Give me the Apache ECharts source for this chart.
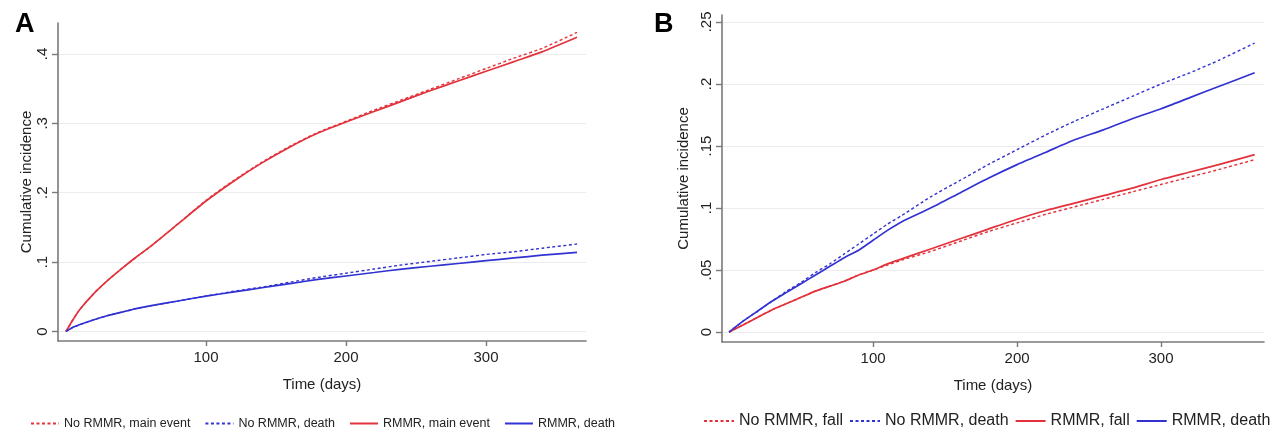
<!DOCTYPE html>
<html>
<head>
<meta charset="utf-8">
<script src="https://cdn.jsdelivr.net/npm/echarts@6/dist/echarts.min.js"></script>
<style>
html,body{margin:0;padding:0;background:#fff;}
#chart{width:1272px;height:435px;}
</style>
</head>
<body>
<div id="chart"></div>
<script>
// ---- Panel A data ----
const daysA = [0,5,10,20,30,40,50,60,80,100,120,140,160,180,200,220,240,260,280,300,320,340,365];
const aNoMain  = [0,0.017,0.032,0.055,0.074,0.091,0.107,0.122,0.155,0.189,0.218,0.244,0.267,0.287,0.303,0.319,0.334,0.349,0.364,0.379,0.394,0.408,0.431];
const aNoDeath = [0,0.006,0.010,0.017,0.023,0.028,0.033,0.037,0.044,0.051,0.058,0.064,0.071,0.078,0.084,0.090,0.096,0.101,0.106,0.111,0.115,0.120,0.126];
const aMain    = [0,0.017,0.032,0.055,0.074,0.091,0.107,0.122,0.155,0.188,0.217,0.243,0.266,0.286,0.302,0.317,0.332,0.347,0.361,0.375,0.389,0.403,0.424];
const aDeath   = [0,0.006,0.010,0.017,0.023,0.028,0.033,0.037,0.044,0.051,0.057,0.063,0.069,0.075,0.080,0.085,0.090,0.094,0.098,0.102,0.106,0.110,0.114];
const namesA = ['No RMMR, main event','No RMMR, death','RMMR, main event','RMMR, death'];
const yTicksA = [0,0.1,0.2,0.3,0.4];

// ---- Panel B data ----
const daysB = [0,10,20,30,40,50,60,70,80,90,100,110,120,140,160,180,200,220,240,260,280,300,320,340,365];
const bNoFall  = [0,0.006,0.012,0.018,0.023,0.028,0.033,0.037,0.041,0.046,0.050,0.054,0.058,0.065,0.073,0.081,0.088,0.095,0.101,0.107,0.113,0.119,0.125,0.131,0.139];
const bNoDeath = [0,0.009,0.017,0.025,0.033,0.040,0.048,0.055,0.063,0.071,0.079,0.087,0.094,0.109,0.122,0.135,0.147,0.159,0.170,0.180,0.190,0.200,0.209,0.219,0.233];
const bFall    = [0,0.006,0.012,0.018,0.023,0.028,0.033,0.037,0.041,0.046,0.050,0.055,0.059,0.067,0.075,0.083,0.091,0.098,0.104,0.110,0.116,0.123,0.129,0.135,0.143];
const bDeath   = [0,0.009,0.017,0.025,0.032,0.039,0.046,0.053,0.060,0.066,0.074,0.082,0.089,0.100,0.112,0.124,0.135,0.145,0.155,0.163,0.172,0.180,0.189,0.198,0.209];
const namesB = ['No RMMR, fall','No RMMR, death','RMMR, fall','RMMR, death'];
const yTicksB = [0,0.05,0.1,0.15,0.2,0.25];

const xTicks = [100,200,300];

const RED = '#e3323c', BLUE = '#3232d2';
const FONT = 'Liberation Sans, Arial, sans-serif';
const TXT = '#222';

function pairs(x, y){ return x.map((d,i)=>[d,y[i]]); }
function fmtY(v){ return v === 0 ? '0' : String(+v.toFixed(2)).replace(/^0/, ''); }

function mkSeries(name, xi, yi, days, vals, color, dashed){
  return {
    type:'line', name, xAxisIndex:xi, yAxisIndex:yi,
    data: pairs(days, vals), symbol:'none', smooth:0.2,
    lineStyle:{color, width: dashed?1.4:1.7, type: dashed?[3,2.5]:'solid'},
    itemStyle:{color}, z: dashed?3:2, silent:true
  };
}

function xAxisCfg(gi, min, max){
  return {
    type:'value', gridIndex:gi, min, max,
    name:'Time (days)', nameLocation:'middle', nameGap:36,
    nameTextStyle:{fontFamily:FONT, fontSize:15, color:TXT},
    axisLine:{show:true, onZero:false, lineStyle:{color:'#7a7a7a', width:1.6}},
    axisTick:{show:true, length:5, customValues:xTicks, lineStyle:{color:'#7a7a7a', width:1.4}},
    axisLabel:{customValues:xTicks, margin:9, fontFamily:FONT, fontSize:15, color:TXT},
    splitLine:{show:false}
  };
}
function yAxisCfg(gi, min, max, ticks, gap){
  return {
    type:'value', gridIndex:gi, min, max,
    name:'Cumulative incidence', nameLocation:'middle', nameGap:gap,
    nameTextStyle:{fontFamily:FONT, fontSize:15, color:TXT},
    axisLine:{show:true, onZero:false, lineStyle:{color:'#7a7a7a', width:1.6}},
    axisTick:{show:true, length:6, customValues:ticks, lineStyle:{color:'#7a7a7a', width:1.4}},
    axisLabel:{customValues:ticks, rotate:90, margin:8, fontFamily:FONT, fontSize:15, color:TXT, formatter:fmtY},
    splitLine:{show:true, lineStyle:{color:'#ececec', width:1}}
  };
}

const chart = echarts.init(document.getElementById('chart'), null, {renderer:'canvas'});
chart.setOption({
  backgroundColor:'#fff',
  animation:false,
  title:[
    {text:'A', left:10, top:6, textStyle:{fontFamily:FONT, fontSize:27, fontWeight:'bold', color:'#000'}},
    {text:'B', left:649, top:6, textStyle:{fontFamily:FONT, fontSize:27, fontWeight:'bold', color:'#000'}}
  ],
  grid:[
    {left:58, top:23, width:528, height:318},
    {left:722, top:15, width:542, height:327}
  ],
  xAxis:[ xAxisCfg(0, -5.7, 371.4), xAxisCfg(1, -4.9, 371.5) ],
  yAxis:[ yAxisCfg(0, -0.0137, 0.4446, yTicksA, 23), yAxisCfg(1, -0.008, 0.2556, yTicksB, 31) ],
  legend:[
    {data:namesA, left:30, top:417, padding:0, width:620, itemWidth:28, itemHeight:12, itemGap:14,
     itemStyle:{opacity:0},
     textStyle:{fontFamily:FONT, fontSize:12.5, color:TXT}},
    {data:namesB, left:703, top:413, padding:0, width:600, itemWidth:30, itemHeight:14, itemGap:6,
     itemStyle:{opacity:0},
     textStyle:{fontFamily:FONT, fontSize:16, color:TXT}}
  ],
  series:[
    mkSeries(namesA[0],0,0,daysA,aNoMain,RED,true),
    mkSeries(namesA[1],0,0,daysA,aNoDeath,BLUE,true),
    mkSeries(namesA[2],0,0,daysA,aMain,RED,false),
    mkSeries(namesA[3],0,0,daysA,aDeath,BLUE,false),
    mkSeries(namesB[0],1,1,daysB,bNoFall,RED,true),
    mkSeries(namesB[1],1,1,daysB,bNoDeath,BLUE,true),
    mkSeries(namesB[2],1,1,daysB,bFall,RED,false),
    mkSeries(namesB[3],1,1,daysB,bDeath,BLUE,false)
  ]
});
</script>
</body>
</html>
